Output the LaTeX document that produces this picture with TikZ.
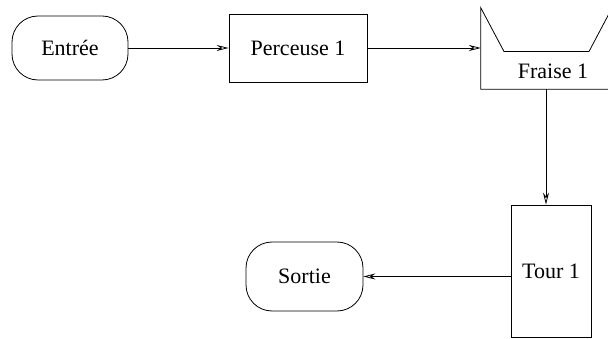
\documentclass[tikz,border=0pt]{standalone}
\usepackage{fontspec}
\setmainfont{Liberation Serif}
\usetikzlibrary{arrows.meta}
\begin{document}
\begin{tikzpicture}[x=1pt,y=-1pt,
  every node/.style={font=\fontsize{22}{26}\selectfont, inner sep=0pt},
  terminal/.style={draw, line width=0.8pt, rounded corners=26pt},
  machine/.style={draw, line width=0.8pt},
  arr/.style={line width=0.8pt, -{Stealth[length=12pt,width=6pt,inset=4pt,open]}}]
  \useasboundingbox (0,0) rectangle (608,339);
  \begin{scope}
  \clip (0,0) rectangle (608,339);
  % start and end terminals
  \node[terminal, minimum width=116pt, minimum height=64pt] (entree) at (70,48) {Entrée};
  \node[terminal, minimum width=117pt, minimum height=69pt] (sortie) at (304.5,276.5) {Sortie};
  % machines
  \node[machine, minimum width=138pt, minimum height=68pt] (perceuse) at (298,48) {Perceuse 1};
  \node[machine, minimum width=80pt, minimum height=132pt] (tour) at (551,271) {Tour 1};
  % milling machine: box with a trapezoidal notch on top
  \node[minimum width=140pt, minimum height=81pt] (fraise) at (551,48.5) {};
  \draw[line width=0.8pt] (fraise.north west) -- (fraise.south west) -- (fraise.south east)
    -- (fraise.north east) -- (612,8) -- (589,51.5) -- (504,51.5) -- cycle;
  \node (fraiselbl) at (553,71) {Fraise 1};
  % flow
  \draw[arr] (entree.east) -- (perceuse.west);
  \draw[arr] (perceuse.east) -- (perceuse.east -| fraise.west);
  \draw[arr] (fraise.south -| 546,0) -- (546,0 |- tour.north);
  \draw[arr] (tour.west |- sortie.east) -- (sortie.east);
  \end{scope}
\end{tikzpicture}
\end{document}
